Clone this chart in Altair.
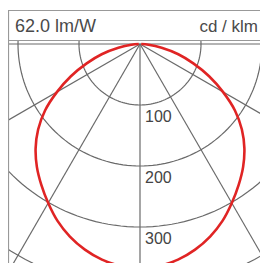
import altair as alt
import pandas as pd

# ---- data (cd/klm vs angle from nadir) ----
angles = [0, 5, 10, 15, 20, 25, 30, 35, 40, 45, 50, 55, 60, 65, 70, 75, 80, 85, 90]
cd_values = [367, 365, 359, 349, 336, 320, 301, 282, 263, 242, 218, 190, 157, 125, 93, 65, 36, 14, 2]
ring_values = [100, 200, 300, 400]
ring_label_values = [100, 200, 300]
spoke_angles = [-90, -60, -30, 0, 30, 60, 90]
header_left = "62.0 lm/W"
header_right = "cd / klm"

# ---- layout ----
W, H = 252, 255
cx, cy = 132, 36      # polar centre in plot pixels
k = 0.61              # pixels per cd/klm
xs = alt.Scale(domain=[-cx / k, (W - cx) / k], nice=False, zero=False)
ys = alt.Scale(domain=[-cy / k, (H - cy) / k], nice=False, zero=False, reverse=True)

full_angles = [-a for a in reversed(angles[1:])] + angles
full_cd = list(reversed(cd_values[1:])) + cd_values
curve_df = pd.DataFrame({"angle": full_angles, "cd": full_cd, "order": list(range(len(full_cd)))})

ring_df = pd.DataFrame([(r, t) for r in ring_values for t in range(0, 361, 2)], columns=["r", "t"])
spoke_df = pd.DataFrame({"a": spoke_angles})
label_df = pd.DataFrame({"r": ring_label_values})

GRID = "#6a6a6a"

rings = alt.Chart(ring_df).transform_calculate(
    px="datum.r*sin(datum.t*PI/180)", py="datum.r*cos(datum.t*PI/180)"
).mark_line(color=GRID, strokeWidth=1.2, clip=True).encode(
    x=alt.X("px:Q", scale=xs, axis=None),
    y=alt.Y("py:Q", scale=ys, axis=None),
    detail="r:N",
    order="t:Q",
)

spokes = alt.Chart(spoke_df).transform_calculate(
    x0="0", y0="0",
    x1="600*sin(datum.a*PI/180)", y1="600*cos(datum.a*PI/180)",
).mark_rule(color=GRID, strokeWidth=1.2, clip=True).encode(
    x=alt.X("x0:Q", scale=xs, axis=None),
    y=alt.Y("y0:Q", scale=ys, axis=None),
    x2="x1:Q",
    y2="y1:Q",
)

curve = alt.Chart(curve_df).transform_calculate(
    px="datum.cd*sin(datum.angle*PI/180)", py="datum.cd*cos(datum.angle*PI/180)"
).mark_line(color="#e02424", strokeWidth=2.6, interpolate="catmull-rom", clip=True).encode(
    x=alt.X("px:Q", scale=xs, axis=None),
    y=alt.Y("py:Q", scale=ys, axis=None),
    order="order:Q",
)

labels = alt.Chart(label_df).transform_calculate(
    lx="0", txt="''+datum.r"
).mark_text(align="left", baseline="middle", dx=5, dy=12, fontSize=16,
            font="Liberation Sans", color="#444444").encode(
    x=alt.X("lx:Q", scale=xs, axis=None),
    y=alt.Y("r:Q", scale=ys, axis=None),
    text="txt:N",
)

header_bg = alt.Chart(pd.DataFrame({"a": [0]})).mark_rect(fill="white").encode(
    x=alt.value(0), x2=alt.value(W), y=alt.value(0), y2=alt.value(32)
)
frame = alt.Chart(pd.DataFrame({"a": [0]})).mark_rect(
    fill="transparent", stroke="#999999", strokeWidth=1.2
).encode(x=alt.value(0.5), x2=alt.value(W + 10), y=alt.value(2.5), y2=alt.value(H + 10))
header_line = alt.Chart(pd.DataFrame({"a": [0]})).mark_rule(color="#999999", strokeWidth=1.2).encode(
    x=alt.value(0), x2=alt.value(W), y=alt.value(32.5)
)
left_text = alt.Chart(pd.DataFrame({"t": [header_left]})).mark_text(
    align="left", baseline="alphabetic", fontSize=18, font="Liberation Sans", color="#4a4a4a"
).encode(x=alt.value(7), y=alt.value(24), text="t:N")
right_text = alt.Chart(pd.DataFrame({"t": [header_right]})).mark_text(
    align="right", baseline="alphabetic", fontSize=17, font="Liberation Sans", color="#4a4a4a"
).encode(x=alt.value(250), y=alt.value(24), text="t:N")

chart = alt.layer(
    rings, spokes, curve, labels, header_bg, frame, header_line, left_text, right_text
).properties(
    width=W, height=H, padding=0, autosize=alt.AutoSizeParams(type="none"), background="white"
).configure_view(stroke=None)

chart.save("out.html", embed_options={"renderer": "svg", "actions": False})
